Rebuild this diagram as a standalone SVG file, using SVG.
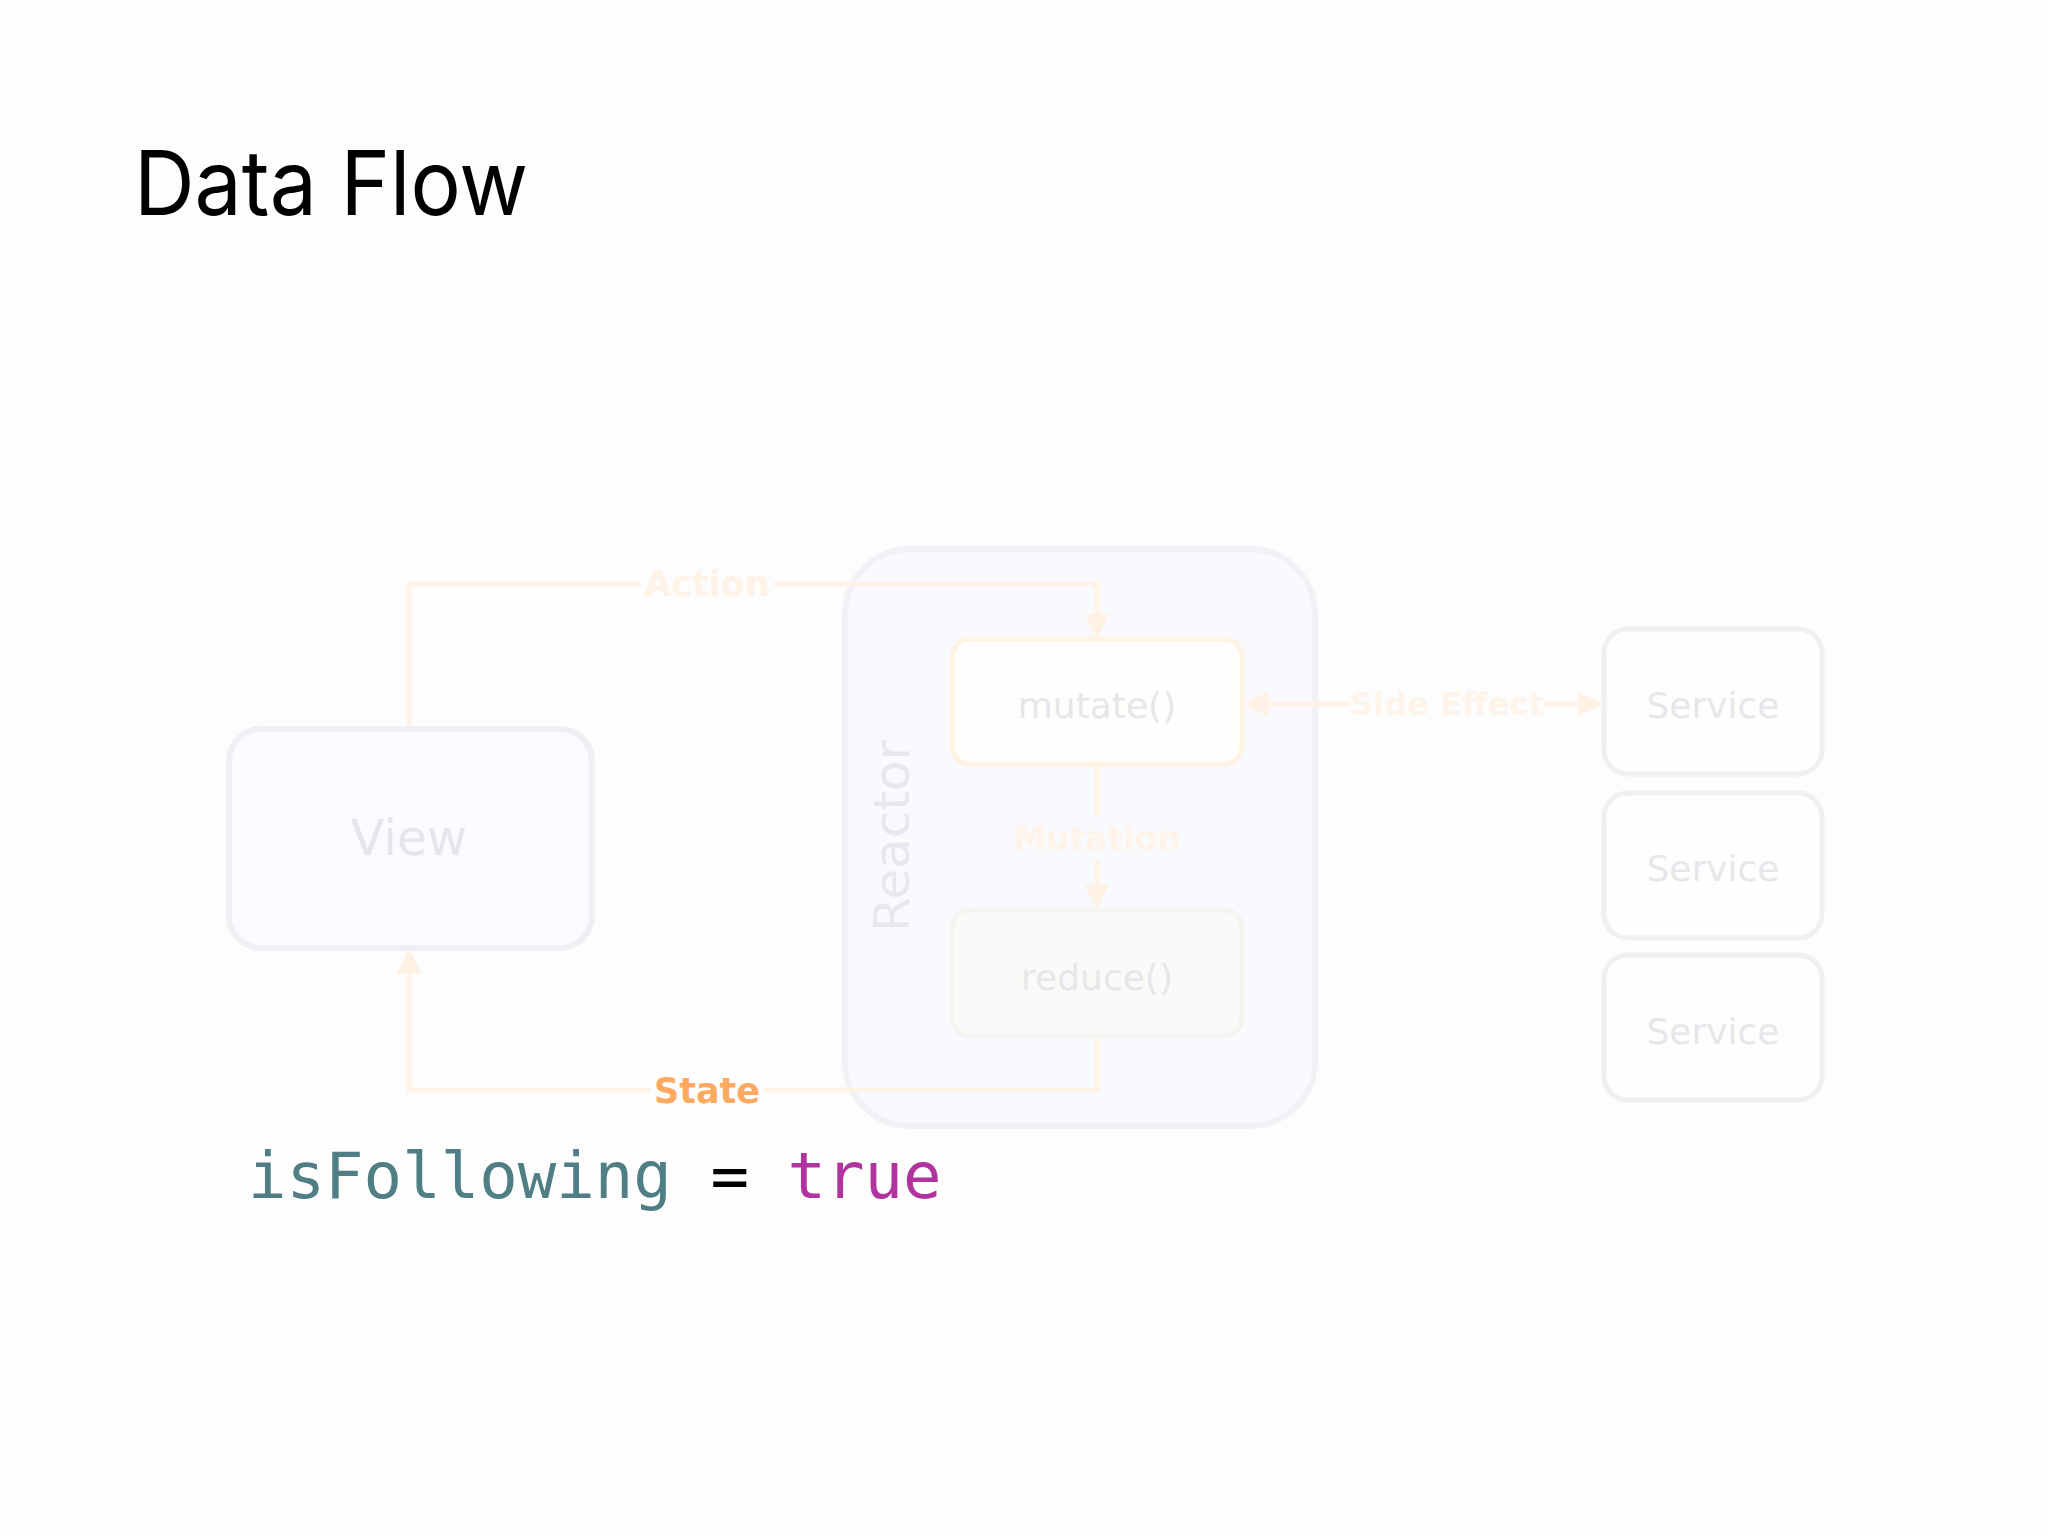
<svg xmlns="http://www.w3.org/2000/svg" width="2048" height="1536" viewBox="0 0 2048 1536">
<style>
.box{font-family:"DejaVu Sans",Verdana,sans-serif;text-anchor:middle;dominant-baseline:central}
.lbl{font-family:"DejaVu Sans",Verdana,sans-serif;font-weight:bold;text-anchor:middle;dominant-baseline:central}
.conn{fill:none;stroke:#fff3e8;stroke-width:5}
.svc{fill:#fefefe;stroke:#f0f0f3;stroke-width:5}
</style>
<defs>
<marker id="ah" viewBox="0 0 10 10" refX="9" refY="5" markerWidth="5" markerHeight="5" orient="auto-start-reverse">
<path d="M0,0 L10,5 L0,10 z" fill="#fff1e4"/>
</marker>
</defs>
<rect width="2048" height="1536" fill="#fdfdfd"/>
<text x="134" y="215" font-family="Inter,'Liberation Sans',sans-serif" font-size="90" fill="#000" textLength="394" lengthAdjust="spacingAndGlyphs">Data Flow</text>

<g id="reactor">
<rect x="845" y="549" width="470" height="577" rx="65" fill="#f9fafd" stroke="#f1f2f6" stroke-width="6"/>
<text class="box" transform="translate(892,836) rotate(-90)" font-size="50" fill="#e7e8ec">Reactor</text>
</g>

<g id="connectors">
<polyline class="conn" points="409,729 409,584 1097,584 1097,636" marker-end="url(#ah)"/>
<line class="conn" x1="1097" y1="764" x2="1097" y2="907" marker-end="url(#ah)"/>
<polyline class="conn" points="1097,1036 1097,1090 409,1090 409,951" marker-end="url(#ah)"/>
<line class="conn" x1="1246" y1="704" x2="1600" y2="704" marker-start="url(#ah)" marker-end="url(#ah)"/>
<rect x="640" y="562" width="134" height="44" fill="#fdfdfd"/>
<text class="lbl" x="707" y="584" font-size="35" fill="#fff2e6">Action</text>
<rect x="1020" y="816" width="154" height="44" fill="#f9fafd"/>
<text class="lbl" x="1097" y="838" font-size="33" fill="#fff4ea">Mutation</text>
<rect x="1350" y="682" width="194" height="44" fill="#fdfdfd"/>
<text class="lbl" x="1447" y="704" font-size="32" fill="#fff4ea">Side Effect</text>
<rect x="650" y="1068" width="114" height="44" fill="#fdfdfd"/>
<text class="lbl" x="707" y="1091" font-size="35" fill="#fdaa60">State</text>
</g>

<g id="view">
<rect x="229" y="729" width="363" height="219" rx="32" fill="#fbfaff" stroke="#f0eff4" stroke-width="6"/>
<text class="box" x="409" y="838" font-size="49" fill="#e6e6ea">View</text>
</g>

<g id="mutate">
<rect x="952" y="639" width="290" height="125" rx="18" fill="#fefefc" stroke="#fff4e3" stroke-width="5"/>
<text class="box" x="1097" y="705" font-size="36" fill="#e7e7ea">mutate()</text>
</g>

<g id="reduce">
<rect x="952" y="910" width="290" height="126" rx="18" fill="#fafbf8" stroke="#f4f5f1" stroke-width="5"/>
<text class="box" x="1097" y="977" font-size="36" fill="#e7e7ea">reduce()</text>
</g>

<g id="service1">
<rect class="svc" x="1604" y="629" width="218" height="145" rx="24"/>
<text class="box" x="1713" y="705" font-size="36" fill="#e7e7eb">Service</text>
</g>
<g id="service2">
<rect class="svc" x="1604" y="793" width="218" height="145" rx="24"/>
<text class="box" x="1713" y="868" font-size="36" fill="#e7e7eb">Service</text>
</g>
<g id="service3">
<rect class="svc" x="1604" y="955" width="218" height="145" rx="24"/>
<text class="box" x="1713" y="1031" font-size="36" fill="#e7e7eb">Service</text>
</g>

<text x="248" y="1198" font-family="'DejaVu Sans Mono',monospace" font-size="64"><tspan fill="#4f7f84">isFollowing</tspan><tspan fill="#000"> = </tspan><tspan fill="#b0339f">true</tspan></text>
</svg>
